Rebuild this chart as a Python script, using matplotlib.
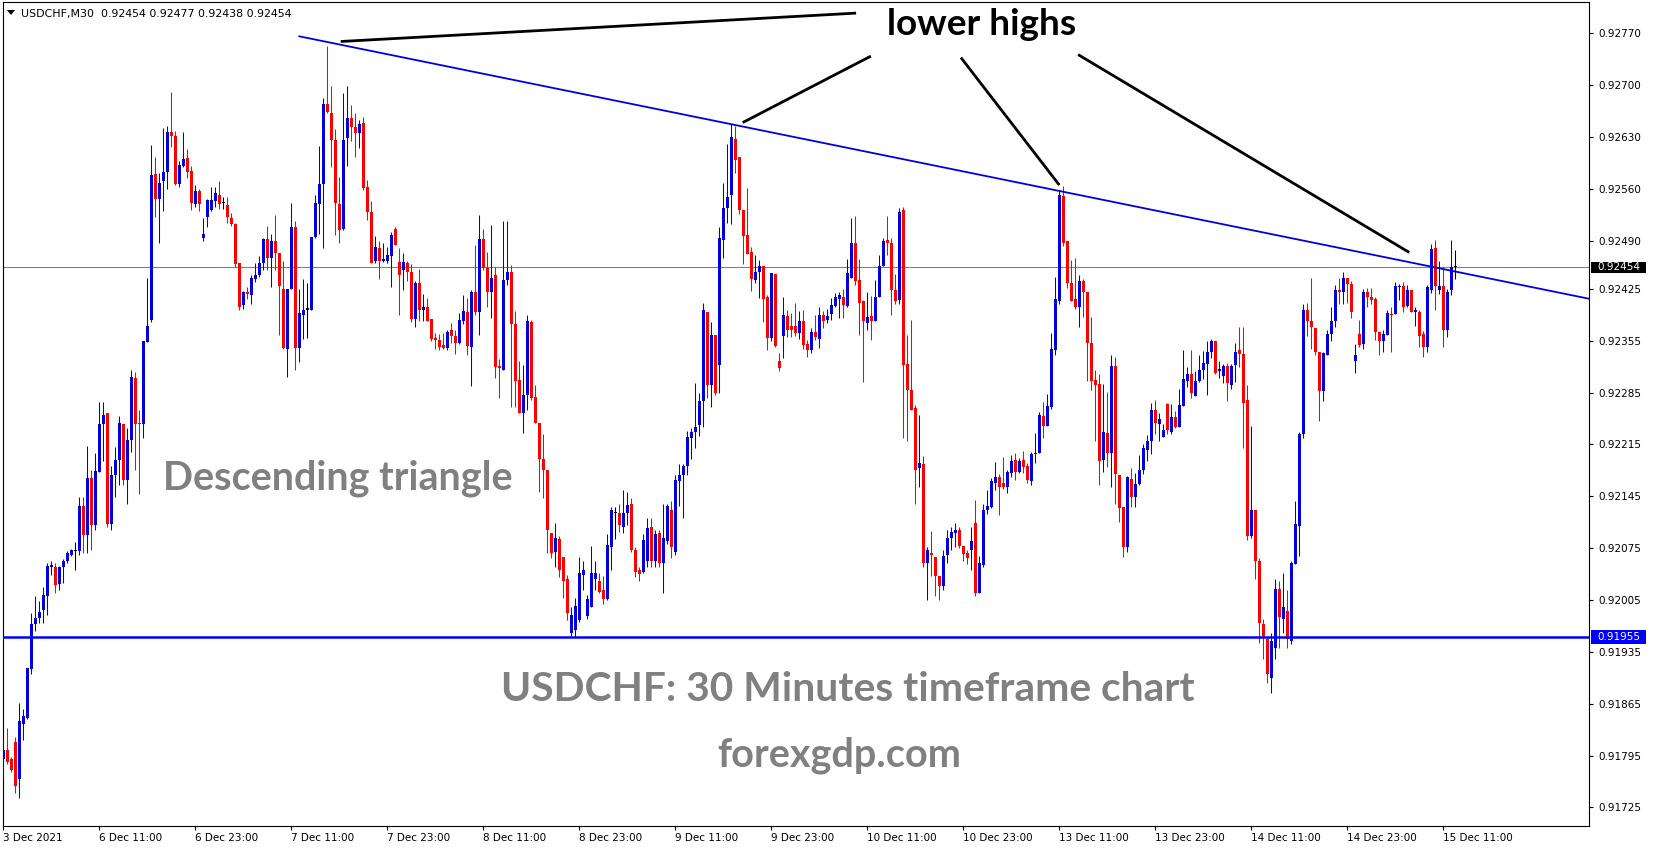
import numpy as np
import matplotlib
matplotlib.use('Agg')
import matplotlib.pyplot as plt
from matplotlib.patches import Rectangle, Polygon

W, H, DPI = 1653, 850, 100

# USDCHF M30 candles, prices in points (1e-5)
opens = [
    91791, 91803, 91791, 91814, 91763, 91838, 91846, 91912, 91972, 91981, 91991, 92011,
    92049, 92049, 92027, 92049, 92057, 92066, 92071, 92071, 92132, 92093, 92170, 92106,
    92178, 92242, 92258, 92108, 92174, 92194, 92243, 92167, 92221, 92304, 92244, 92242,
    92353, 92383, 92580, 92546, 92571, 92583, 92637, 92631, 92567, 92591, 92601, 92584,
    92540, 92557, 92493, 92522, 92531, 92544, 92552, 92541, 92538, 92520, 92513, 92460,
    92403, 92420, 92417, 92438, 92444, 92460, 92492, 92466, 92489, 92473, 92425, 92344,
    92425, 92508, 92345, 92390, 92397, 92397, 92495, 92540, 92567, 92675, 92662, 92626,
    92540, 92505, 92628, 92655, 92643, 92635, 92649, 92563, 92529, 92462, 92480, 92463,
    92462, 92469, 92505, 92461, 92450, 92460, 92448, 92384, 92433, 92397, 92400, 92384,
    92358, 92356, 92349, 92345, 92370, 92361, 92352, 92381, 92394, 92347, 92421, 92393,
    92492, 92453, 92420, 92444, 92321, 92315, 92437, 92447, 92378, 92302, 92257, 92282,
    92380, 92279, 92244, 92195, 92181, 92096, 92070, 92087, 92063, 92033, 91960, 91965,
    91978, 92039, 91983, 91996, 92034, 92030, 92018, 92007, 92077, 92123, 92123, 92104,
    92123, 92135, 92072, 92045, 92043, 92057, 92103, 92057, 92096, 92055, 92085, 92127,
    92070, 92165, 92174, 92186, 92223, 92232, 92241, 92273, 92394, 92295, 92363, 92322,
    92491, 92534, 92552, 92627, 92603, 92531, 92498, 92474, 92437, 92448, 92456, 92414,
    92359, 92445, 92327, 92361, 92388, 92375, 92375, 92365, 92381, 92351, 92343, 92367,
    92357, 92390, 92383, 92391, 92402, 92411, 92414, 92402, 92440, 92487, 92437, 92408,
    92379, 92388, 92381, 92414, 92456, 92491, 92487, 92424, 92410, 92531, 92324, 92289,
    92264, 92183, 92189, 92055, 92069, 92063, 92037, 92024, 92066, 92088, 92096, 92100,
    92078, 92068, 92072, 92109, 92015, 92052, 92127, 92131, 92163, 92171, 92163, 92158,
    92177, 92194, 92178, 92194, 92186, 92166, 92202, 92203, 92253, 92240, 92265, 92342,
    92408, 92550, 92489, 92433, 92411, 92401, 92436, 92420, 92352, 92302, 92297, 92194,
    92231, 92204, 92321, 92174, 92131, 92077, 92168, 92144, 92162, 92181, 92208, 92220,
    92262, 92243, 92225, 92270, 92232, 92252, 92239, 92267, 92301, 92310, 92280, 92300,
    92315, 92324, 92339, 92354, 92314, 92307, 92321, 92295, 92322, 92342, 92337, 92275,
    92091, 92126, 92057, 91973, 91952, 91900, 91940, 92020, 91980, 91990, 91950, 92053,
    92105, 92229, 92397, 92382, 92372, 92339, 92287, 92336, 92364, 92381, 92423, 92420,
    92439, 92432, 92328, 92364, 92351, 92420, 92414, 92411, 92367, 92355, 92363, 92391,
    92391, 92428, 92429, 92402, 92424, 92394, 92394, 92364, 92347, 92424, 92480, 92424,
    92429, 92369, 92424, 92454,
]
highs = [
    91816, 91832, 91793, 91820, 91866, 91858, 91913, 91988, 92011, 92004, 92023, 92055,
    92058, 92055, 92051, 92060, 92071, 92074, 92083, 92144, 92144, 92213, 92180, 92204,
    92272, 92272, 92258, 92186, 92211, 92253, 92243, 92237, 92315, 92313, 92262, 92355,
    92439, 92619, 92603, 92581, 92642, 92645, 92691, 92638, 92597, 92637, 92613, 92591,
    92565, 92559, 92520, 92546, 92563, 92562, 92571, 92549, 92549, 92527, 92514, 92460,
    92422, 92428, 92444, 92460, 92469, 92493, 92510, 92499, 92524, 92473, 92463, 92425,
    92541, 92517, 92425, 92438, 92433, 92495, 92552, 92618, 92683, 92753, 92699, 92641,
    92576, 92689, 92699, 92673, 92662, 92653, 92657, 92572, 92543, 92496, 92489, 92487,
    92482, 92502, 92509, 92480, 92473, 92462, 92458, 92435, 92452, 92418, 92412, 92384,
    92365, 92364, 92365, 92370, 92379, 92370, 92392, 92417, 92413, 92424, 92484, 92524,
    92505, 92474, 92511, 92455, 92330, 92517, 92517, 92457, 92395, 92327, 92322, 92390,
    92383, 92295, 92244, 92229, 92181, 92096, 92109, 92092, 92063, 92039, 91995, 92008,
    92063, 92058, 92012, 92078, 92057, 92042, 92037, 92094, 92130, 92130, 92135, 92154,
    92151, 92142, 92077, 92049, 92094, 92115, 92116, 92100, 92100, 92135, 92135, 92138,
    92174, 92188, 92188, 92233, 92237, 92298, 92284, 92406, 92394, 92380, 92363, 92509,
    92568, 92620, 92647, 92645, 92603, 92531, 92561, 92481, 92470, 92464, 92456, 92416,
    92446, 92445, 92338, 92414, 92396, 92392, 92406, 92395, 92396, 92356, 92372, 92390,
    92401, 92395, 92398, 92413, 92419, 92421, 92425, 92465, 92521, 92523, 92465, 92410,
    92421, 92415, 92437, 92470, 92494, 92523, 92493, 92445, 92534, 92536, 92362, 92383,
    92268, 92255, 92199, 92077, 92098, 92063, 92037, 92073, 92100, 92104, 92109, 92104,
    92078, 92073, 92104, 92140, 92064, 92135, 92154, 92169, 92191, 92175, 92198, 92180,
    92200, 92204, 92197, 92206, 92190, 92205, 92230, 92259, 92272, 92283, 92365, 92441,
    92558, 92564, 92489, 92464, 92466, 92444, 92438, 92420, 92387, 92315, 92310, 92297,
    92286, 92335, 92333, 92174, 92131, 92173, 92183, 92176, 92200, 92216, 92227, 92271,
    92275, 92258, 92242, 92271, 92269, 92260, 92290, 92342, 92319, 92342, 92314, 92336,
    92341, 92355, 92357, 92355, 92327, 92324, 92325, 92323, 92352, 92374, 92374, 92295,
    92240, 92126, 92062, 91979, 91955, 91960, 92034, 92030, 92041, 92019, 92057, 92138,
    92232, 92405, 92406, 92440, 92372, 92339, 92340, 92369, 92400, 92430, 92440, 92448,
    92440, 92435, 92350, 92383, 92425, 92426, 92426, 92414, 92367, 92370, 92397, 92401,
    92434, 92432, 92434, 92430, 92424, 92400, 92397, 92368, 92430, 92486, 92491, 92463,
    92455, 92425, 92491, 92477,
]
lows = [
    91765, 91784, 91773, 91745, 91738, 91816, 91844, 91905, 91963, 91974, 91974, 91985,
    92039, 92015, 92019, 92028, 92055, 92065, 92046, 92066, 92068, 92068, 92072, 92099,
    92178, 92192, 92103, 92100, 92144, 92160, 92160, 92135, 92205, 92181, 92148, 92224,
    92353, 92380, 92522, 92487, 92530, 92559, 92616, 92565, 92563, 92589, 92575, 92531,
    92535, 92530, 92489, 92508, 92530, 92535, 92533, 92533, 92514, 92510, 92455, 92396,
    92398, 92411, 92404, 92434, 92441, 92450, 92450, 92428, 92450, 92362, 92344, 92306,
    92425, 92315, 92326, 92357, 92359, 92396, 92493, 92499, 92480, 92662, 92590, 92498,
    92487, 92504, 92591, 92625, 92603, 92615, 92558, 92518, 92460, 92460, 92438, 92461,
    92460, 92428, 92484, 92389, 92424, 92436, 92380, 92374, 92382, 92382, 92382, 92354,
    92344, 92342, 92344, 92343, 92352, 92337, 92350, 92378, 92335, 92294, 92390, 92363,
    92450, 92401, 92385, 92304, 92277, 92315, 92430, 92266, 92266, 92257, 92231, 92262,
    92275, 92244, 92151, 92142, 92069, 92062, 92050, 92036, 92008, 91978, 91955, 91955,
    91975, 92019, 91980, 91996, 92019, 92014, 92000, 92005, 92046, 92087, 92097, 92095,
    92106, 92070, 92036, 92030, 92042, 92050, 92050, 92050, 92050, 92014, 92080, 92062,
    92066, 92132, 92115, 92174, 92195, 92210, 92226, 92239, 92278, 92266, 92282, 92284,
    92466, 92514, 92512, 92581, 92526, 92459, 92472, 92422, 92433, 92413, 92380, 92343,
    92355, 92347, 92314, 92332, 92360, 92360, 92361, 92357, 92344, 92333, 92338, 92356,
    92345, 92372, 92379, 92383, 92401, 92385, 92386, 92400, 92440, 92430, 92363, 92299,
    92370, 92356, 92381, 92414, 92456, 92470, 92389, 92404, 92404, 92223, 92220, 92262,
    92134, 92157, 92049, 92005, 92037, 92010, 92005, 92019, 92055, 92073, 92077, 92075,
    92058, 92053, 92046, 92010, 92014, 92050, 92121, 92129, 92153, 92120, 92155, 92150,
    92171, 92167, 92176, 92176, 92163, 92160, 92190, 92203, 92224, 92240, 92263, 92335,
    92405, 92483, 92426, 92408, 92398, 92374, 92387, 92301, 92289, 92219, 92160, 92178,
    92185, 92157, 92135, 92110, 92063, 92070, 92130, 92130, 92160, 92175, 92193, 92202,
    92229, 92219, 92225, 92229, 92229, 92237, 92238, 92267, 92293, 92278, 92280, 92299,
    92303, 92282, 92331, 92310, 92305, 92298, 92273, 92290, 92299, 92319, 92210, 92086,
    92088, 92034, 91947, 91925, 91893, 91880, 91925, 91940, 91960, 91940, 91946, 92053,
    92065, 92224, 92361, 92344, 92336, 92247, 92274, 92335, 92355, 92373, 92404, 92405,
    92406, 92385, 92311, 92346, 92344, 92400, 92404, 92356, 92335, 92339, 92363, 92340,
    92391, 92410, 92393, 92400, 92394, 92375, 92346, 92333, 92340, 92419, 92396, 92418,
    92347, 92360, 92417, 92438,
]
closes = [
    91803, 91787, 91775, 91754, 91842, 91848, 91913, 91972, 91981, 91989, 92012, 92051,
    92052, 92025, 92049, 92057, 92068, 92073, 92071, 92132, 92093, 92170, 92106, 92179,
    92242, 92255, 92108, 92174, 92194, 92244, 92167, 92221, 92306, 92243, 92242, 92355,
    92375, 92578, 92546, 92568, 92582, 92636, 92631, 92567, 92592, 92600, 92583, 92541,
    92557, 92540, 92499, 92545, 92545, 92554, 92540, 92541, 92522, 92512, 92459, 92401,
    92420, 92418, 92439, 92443, 92460, 92492, 92466, 92489, 92473, 92429, 92345, 92425,
    92508, 92345, 92392, 92396, 92397, 92495, 92541, 92567, 92675, 92663, 92626, 92541,
    92504, 92626, 92655, 92643, 92635, 92648, 92561, 92529, 92460, 92482, 92462, 92465,
    92471, 92498, 92484, 92443, 92461, 92448, 92384, 92433, 92397, 92400, 92382, 92357,
    92356, 92347, 92345, 92367, 92361, 92352, 92383, 92395, 92348, 92421, 92393, 92492,
    92453, 92420, 92439, 92320, 92318, 92437, 92447, 92378, 92301, 92258, 92282, 92381,
    92277, 92244, 92195, 92180, 92099, 92069, 92088, 92046, 92031, 91987, 91985, 91997,
    92041, 92046, 92007, 92041, 92042, 92016, 92006, 92079, 92127, 92123, 92106, 92123,
    92133, 92072, 92043, 92040, 92086, 92102, 92057, 92094, 92055, 92088, 92132, 92076,
    92167, 92174, 92186, 92225, 92232, 92239, 92273, 92396, 92295, 92362, 92284, 92493,
    92534, 92549, 92630, 92599, 92531, 92496, 92472, 92438, 92448, 92456, 92411, 92359,
    92446, 92348, 92318, 92390, 92370, 92370, 92365, 92381, 92349, 92343, 92367, 92360,
    92390, 92382, 92388, 92403, 92414, 92417, 92403, 92446, 92487, 92435, 92406, 92382,
    92387, 92382, 92414, 92456, 92490, 92487, 92423, 92409, 92528, 92322, 92288, 92262,
    92181, 92190, 92055, 92073, 92066, 92037, 92024, 92064, 92088, 92097, 92100, 92078,
    92067, 92061, 92084, 92015, 92055, 92127, 92132, 92165, 92171, 92158, 92158, 92178,
    92193, 92178, 92193, 92185, 92167, 92202, 92204, 92255, 92240, 92267, 92344, 92411,
    92552, 92487, 92433, 92409, 92401, 92436, 92420, 92352, 92301, 92295, 92193, 92232,
    92204, 92321, 92175, 92129, 92077, 92171, 92144, 92162, 92181, 92210, 92220, 92261,
    92244, 92249, 92235, 92235, 92252, 92239, 92268, 92303, 92310, 92284, 92300, 92315,
    92325, 92339, 92354, 92312, 92317, 92321, 92298, 92321, 92340, 92337, 92271, 92091,
    92126, 92058, 91974, 91955, 91905, 91950, 92020, 91982, 91995, 91952, 92055, 92108,
    92229, 92397, 92382, 92373, 92339, 92287, 92338, 92364, 92381, 92424, 92421, 92439,
    92432, 92393, 92336, 92349, 92421, 92414, 92410, 92366, 92355, 92364, 92392, 92389,
    92429, 92429, 92401, 92424, 92394, 92397, 92361, 92346, 92427, 92478, 92429, 92429,
    92370, 92421, 92454, 92454,
]

price_ticks = [0.92770, 0.92700, 0.92630, 0.92560, 0.92490, 0.92425, 0.92355, 0.92285,
               0.92215, 0.92145, 0.92075, 0.92005, 0.91935, 0.91865, 0.91795, 0.91725]
time_labels = ['3 Dec 2021', '6 Dec 11:00', '6 Dec 23:00', '7 Dec 11:00', '7 Dec 23:00',
               '8 Dec 11:00', '8 Dec 23:00', '9 Dec 11:00', '9 Dec 23:00', '10 Dec 11:00',
               '10 Dec 23:00', '13 Dec 11:00', '13 Dec 23:00', '14 Dec 11:00',
               '14 Dec 23:00', '15 Dec 11:00']
bars_per_label = 24

bid = 0.92454
support = 0.91955
# descending trend line through the two highs (bar index, price)
trend_x = [81, 264]
trend_y = [0.92758, 0.92557]
trend_start = 74
# "lower highs" pointer lines (bar index, price)
pointers = [
    ((84.35, 0.927587), (213.2, 0.92797)),
    ((184.85, 0.926493), (216.9, 0.92739)),
    ((264.0, 0.92565), (239.4, 0.92737)),
    ((351.5, 0.92474), (268.7, 0.92741)),
]

o = np.array(opens) / 1e5
h = np.array(highs) / 1e5
l = np.array(lows) / 1e5
c = np.array(closes) / 1e5
idx = np.arange(len(o))

# Colores
blue = '#0000DD'
red = '#FF0000'
cols = np.where(c > o, blue, np.where(c < o, red, 'black'))

fig = plt.figure(figsize=(W / DPI, H / DPI), dpi=DPI)
fig.patch.set_facecolor('white')
ax = fig.add_axes([3 / W, 24 / H, 1586 / W, 824 / H])

x_left = -0.075
ax.set_xlim(x_left, x_left + 1586 / 4)
ax.set_ylim(0.91700, 0.92812)

# velas
ax.vlines(idx, l, h, colors=cols, linewidth=0.75, zorder=3)
body_lo = np.minimum(o, c)
body_h = np.maximum(np.abs(c - o), 0.000014)
ax.bar(idx, body_h, bottom=body_lo, width=0.75, color=cols, linewidth=0, zorder=4)

# lines
ax.axhline(bid, color='#808080', linewidth=0.8, zorder=2)
ax.axhline(support, color='#0000FF', linewidth=1.8, zorder=5)
slope = (trend_y[1] - trend_y[0]) / (trend_x[1] - trend_x[0])
tx = np.array([trend_start, x_left + 1586 / 4])
ax.plot(tx, trend_y[0] + slope * (tx - trend_x[0]), color='#0000DD', linewidth=1.3, zorder=5)
for (xa, ya), (xb, yb) in pointers:
    ax.plot([xa, xb], [ya, yb], color='black', linewidth=2.0, zorder=6, clip_on=False,
            solid_capstyle='butt')

# axes style
for s in ax.spines.values():
    s.set_linewidth(0.8)
ax.yaxis.tick_right()
ax.set_yticks(price_ticks)
ax.set_yticklabels([f'{p:.5f}' for p in price_ticks])
ax.set_xticks(np.arange(len(time_labels)) * bars_per_label)
ax.set_xticklabels(time_labels, ha='left')
ax.tick_params(axis='both', direction='out', length=3, width=0.8, labelsize=7.5, colors='black')
ax.tick_params(axis='y', pad=4)
ax.tick_params(axis='x', pad=2)

renderer = fig.canvas.get_renderer()


def fit_text(s, x0, x1, ybase, **kw):
    t = fig.text(x0 / W, 1 - ybase / H, s, fontsize=20, ha='left', va='baseline', **kw)
    bb = t.get_window_extent(renderer)
    t.set_fontsize(20 * (x1 - x0) / bb.width)
    return t


gray = '#808080'
fit_text('Descending triangle', 163, 513, 490, color=gray, family='Lato', weight='bold')
fit_text('USDCHF: 30 Minutes timeframe chart', 501, 1195, 701, color=gray, family='Lato', weight='bold')
fit_text('forexgdp.com', 717, 961, 767, color=gray, family='Lato', weight='bold')
fit_text('lower highs', 887, 1076, 35, color='black', family='Lato', weight='bold')

# header
fig.patches.append(Polygon([(7, H - 10), (15, H - 10), (11, H - 15)], closed=True,
                           transform=None, facecolor='black', edgecolor='none'))
fit_text(f'USDCHF,M30  {o[-1]:.5f} {h[-1]:.5f} {l[-1]:.5f} {c[-1]:.5f}', 21, 295, 17.3,
         color='black', family='DejaVu Sans')


# price tags
def price_tag(p, fc, tc, hgt):
    y = ax.transData.transform((0, p))[1]
    fig.patches.append(Rectangle((1591, y - hgt / 2), 55, hgt, transform=None,
                                 facecolor=fc, edgecolor='none', zorder=10))
    fig.text(1597 / W, y / H, f'{p:.5f}', color=tc, fontsize=7.5, ha='left', va='center',
             zorder=11)


price_tag(bid, 'black', 'white', 11)
price_tag(support, '#0000FF', 'white', 14)

fig.savefig('out.png', dpi=DPI, facecolor='white')
